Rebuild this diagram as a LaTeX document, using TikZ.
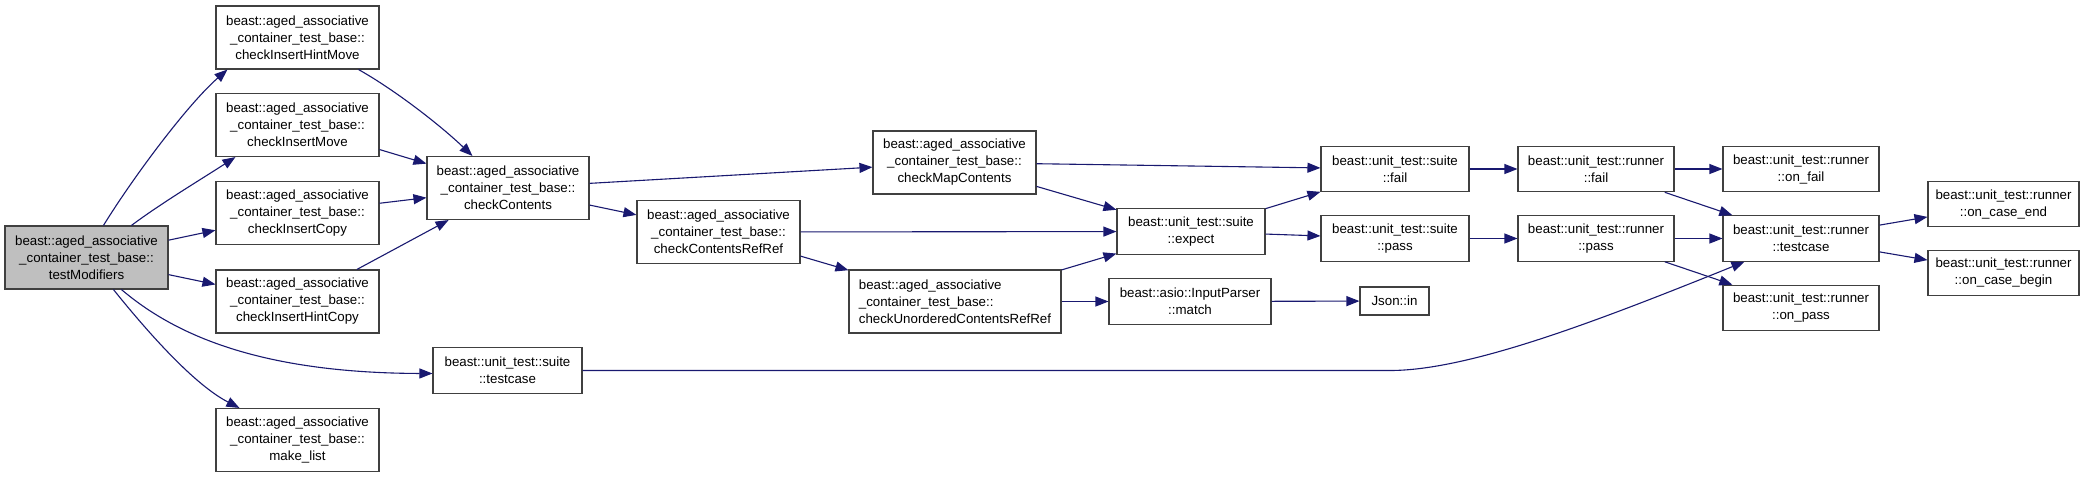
\documentclass[tikz,border=0pt]{standalone}
\usepackage{fontspec}
\setmainfont{Liberation Sans}
\usetikzlibrary{arrows.meta}
\definecolor{edgeblue}{RGB}{25,25,112}
\definecolor{boxgray}{RGB}{64,64,64}
\definecolor{fillgray}{RGB}{191,191,191}
\tikzset{
  box/.style={draw=boxgray, line width=1.1pt, inner sep=0pt, align=center,
    font=\fontsize{13.3}{17}\selectfont, text=black, fill=white},
  bthree/.style={box, minimum width=163pt, minimum height=63pt},
  btwo/.style={box, minimum width=148pt, minimum height=45.5pt},
  edge/.style={draw=edgeblue, line width=1.1pt, -{Triangle[length=13pt,width=10pt]}}
}
\begin{document}
\begin{tikzpicture}[x=1pt,y=-1pt]
\fill[white] (0,0) rectangle (2091,477);
\useasboundingbox (0,0) rectangle (2091,477);

\node[bthree, fill=fillgray] (tm) at (86.5,257.5) {beast::aged\_associative\\\_container\_test\_base::\\testModifiers};
\node[bthree] (cihm) at (297.5,37.5) {beast::aged\_associative\\\_container\_test\_base::\\checkInsertHintMove};
\node[bthree] (cim) at (297.5,125) {beast::aged\_associative\\\_container\_test\_base::\\checkInsertMove};
\node[bthree] (cic) at (297.5,213) {beast::aged\_associative\\\_container\_test\_base::\\checkInsertCopy};
\node[bthree] (cihc) at (297.5,301.5) {beast::aged\_associative\\\_container\_test\_base::\\checkInsertHintCopy};
\node[bthree] (ml) at (297.5,440) {beast::aged\_associative\\\_container\_test\_base::\\make\_list};
\node[bthree, minimum width=162pt] (cc) at (508,188) {beast::aged\_associative\\\_container\_test\_base::\\checkContents};
\node[btwo, minimum width=149pt] (stc) at (507.5,370.5) {beast::unit\_test::suite\\::testcase};
\node[bthree] (cmc) at (954.5,162.5) {beast::aged\_associative\\\_container\_test\_base::\\checkMapContents};
\node[bthree] (ccrr) at (718.5,232) {beast::aged\_associative\\\_container\_test\_base::\\checkContentsRefRef};
\node[bthree, minimum width=212pt, align=left] (cucrr) at (955,301.5) {beast::aged\_associative\\\_container\_test\_base::\\checkUnorderedContentsRefRef};
\node[btwo] (sfail) at (1395,169) {beast::unit\_test::suite\\::fail};
\node[btwo] (sexp) at (1191,231.5) {beast::unit\_test::suite\\::expect};
\node[btwo] (spass) at (1395,238.5) {beast::unit\_test::suite\\::pass};
\node[btwo, minimum width=162pt] (ipm) at (1190,301.5) {beast::asio::InputParser\\::match};
\node[box, minimum width=69pt, minimum height=28pt] (json) at (1394.5,301) {Json::in};
\node[btwo, minimum width=156pt] (rfail) at (1596,169) {beast::unit\_test::runner\\::fail};
\node[btwo, minimum width=156pt] (rpass) at (1596,238.5) {beast::unit\_test::runner\\::pass};
\node[btwo, minimum width=156pt] (ronfail) at (1801,169) {beast::unit\_test::runner\\::on\_fail};
\node[btwo, minimum width=156pt] (rtc) at (1801,238.5) {beast::unit\_test::runner\\::testcase};
\node[btwo, minimum width=156pt] (ronpass) at (1801,308) {beast::unit\_test::runner\\::on\_pass};
\node[btwo, minimum width=151pt] (rend) at (2003.5,204) {beast::unit\_test::runner\\::on\_case\_end};
\node[btwo, minimum width=151pt] (rbegin) at (2003.5,273) {beast::unit\_test::runner\\::on\_case\_begin};

% edges from testModifiers
\draw[edge] ([xshift=99pt]tm.north west) .. controls (134,176) and (188,104) .. ([xshift=12pt]cihm.south west);
\draw[edge] ([xshift=127pt]tm.north west) .. controls (160,204) and (200,180) .. ([xshift=20pt]cim.south west);
\draw[edge] (tm) -- (cic);
\draw[edge] (tm) -- (cihc);
\draw[edge] ([xshift=117pt]tm.south west) .. controls (175,335) and (260,373) .. ([yshift=-3pt]stc.west);
\draw[edge] ([xshift=109pt]tm.south west) .. controls (150,335) and (195,385) .. ([xshift=24pt]ml.north west);

% into checkContents
\draw[edge] ([xshift=-21pt]cihm.south east) .. controls (395,90) and (440,125) .. ([xshift=46pt]cc.north west);
\draw[edge] (cim) -- (cc);
\draw[edge] (cic) -- (cc);
\draw[edge] (cihc) -- (cc);

% from checkContents
\draw[edge] (cc) -- (cmc);
\draw[edge] (cc) -- (ccrr);

\draw[edge] (cmc) -- (sfail);
\draw[edge] (cmc) -- (sexp);
\draw[edge] (ccrr) -- (sexp);
\draw[edge] (ccrr) -- (cucrr);
\draw[edge] (cucrr) -- (sexp);
\draw[edge] (cucrr) -- (ipm);
\draw[edge] (ipm) -- (json);

\draw[edge] (sexp) -- (sfail);
\draw[edge] (sexp) -- (spass);
\draw[edge] (sfail) -- (rfail);
\draw[edge] (spass) -- (rpass);
\draw[edge] (rfail) -- (ronfail);
\draw[edge] (rfail) -- (rtc);
\draw[edge] (rpass) -- (rtc);
\draw[edge] (rpass) -- (ronpass);

\draw[edge] (stc.east) -- (1390,370.5) .. controls (1470,370.5) and (1600,320) .. ([xshift=22pt]rtc.south west);

\draw[edge] (rtc) -- (rend);
\draw[edge] (rtc) -- (rbegin);
\end{tikzpicture}
\end{document}
